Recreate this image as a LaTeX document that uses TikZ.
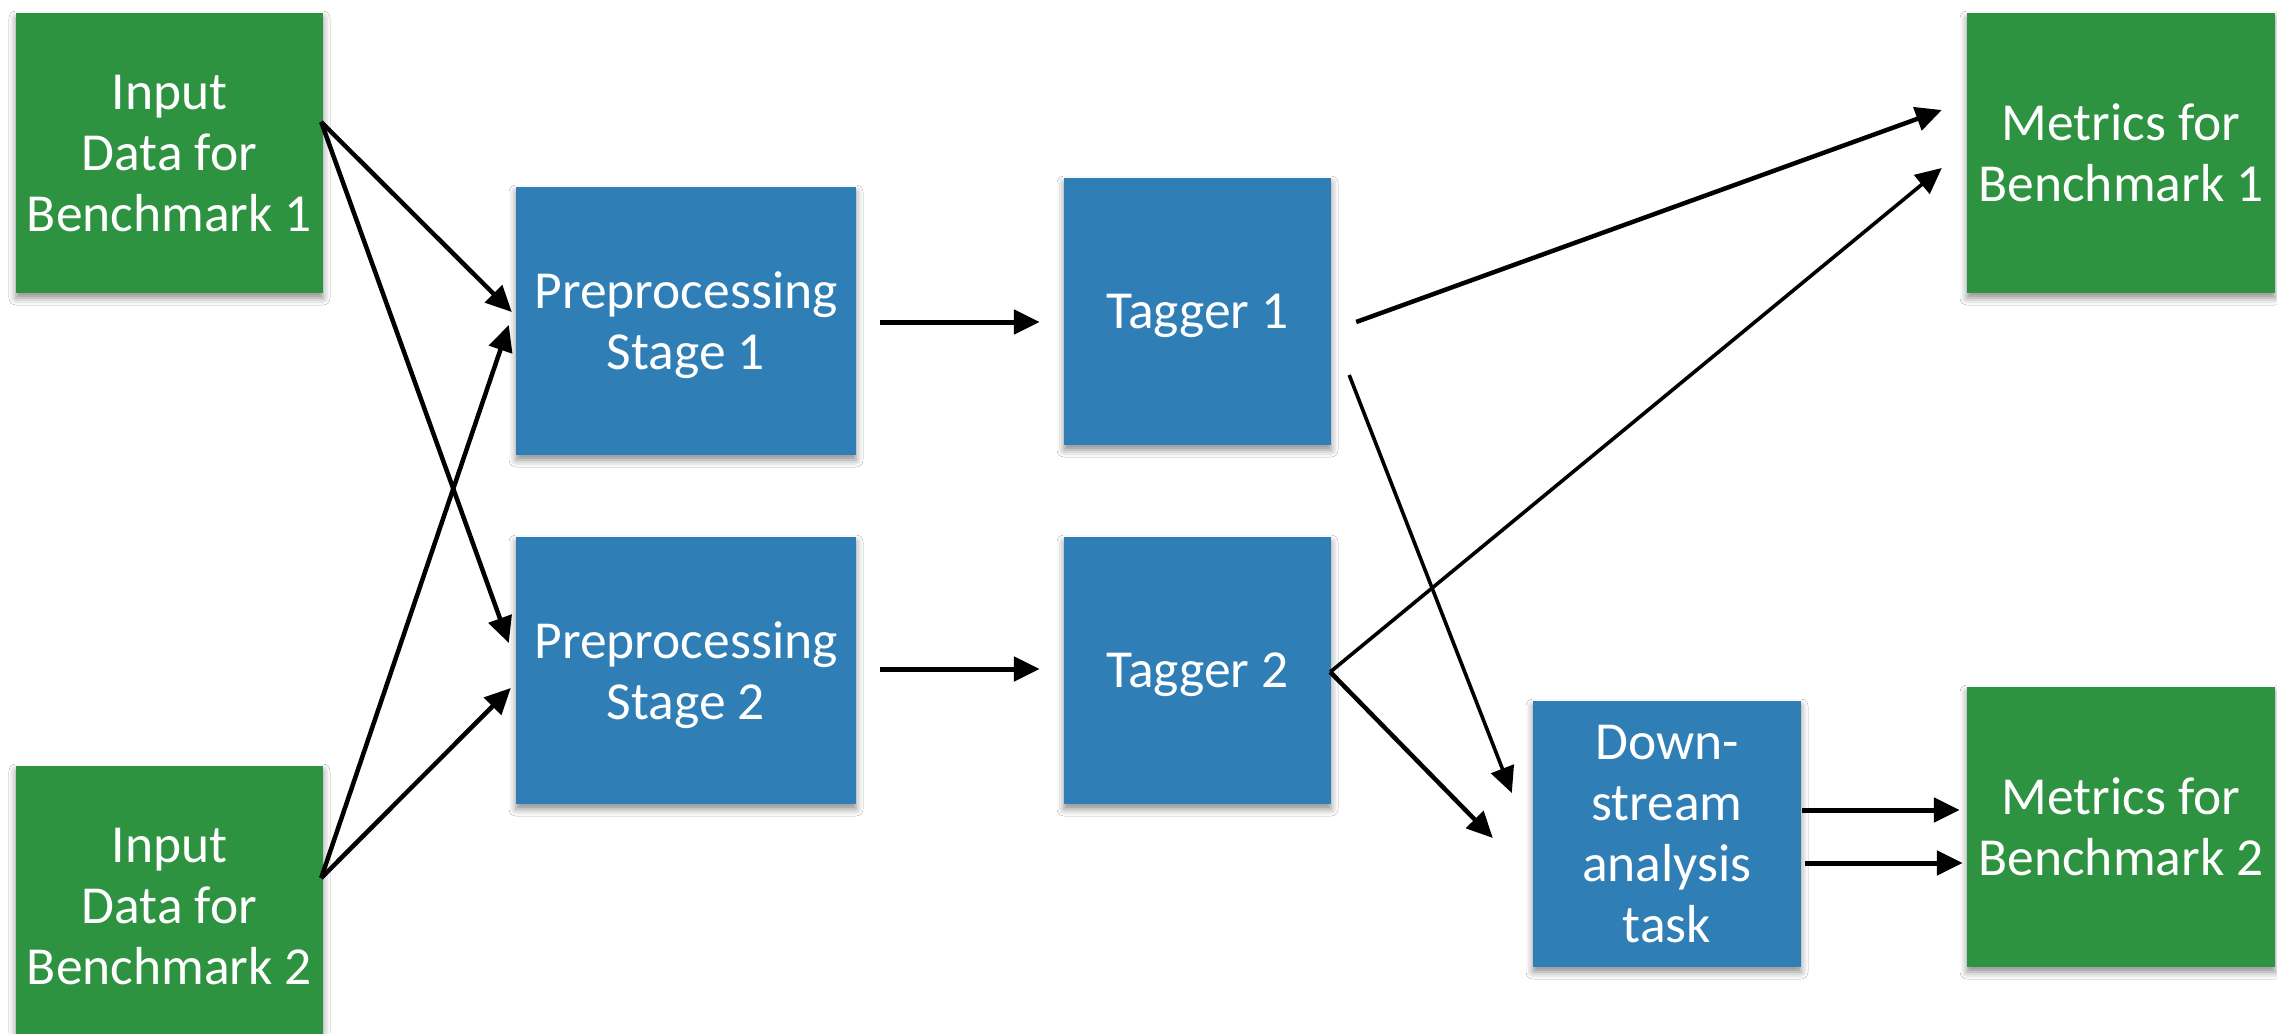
\documentclass[tikz,border=0pt]{standalone}
\usepackage{fontspec}
\setmainfont{Carlito}
\usetikzlibrary{arrows.meta,calc,shadows.blur}
\definecolor{boxgreen}{RGB}{46,147,64}
\definecolor{boxblue}{RGB}{47,126,182}
\begin{document}
\begin{tikzpicture}[x=1pt,y=-1pt,
  card/.style={inner sep=0pt, align=center, text=white, text depth=-4pt,
    font=\fontsize{53.5}{61}\selectfont,
    blur shadow={shadow xshift=0pt, shadow yshift=-5pt,
      shadow blur radius=7pt, shadow opacity=45}},
  databox/.style={card, fill=boxgreen, minimum width=307pt, minimum height=280pt},
  stagebox/.style={card, fill=boxblue},
  arr/.style={line width=4.5pt, -{Triangle[length=26pt,width=24pt]}},
  thinarr/.style={arr, line width=3.6pt}]
\useasboundingbox (0,0) rectangle (2277,1033);
\fill[white] (0,0) rectangle (2277,1033);

% inputs
\node[databox] (in1) at (169.5,153) {Input\\Data for\\Benchmark 1};
\node[databox] (in2) at (169.5,906) {Input\\Data for\\Benchmark 2};

% processing stages
\node[stagebox, minimum width=340pt, minimum height=268pt] (prep1) at (686,321) {Preprocessing\\Stage 1};
\node[stagebox, minimum width=340pt, minimum height=267pt] (prep2) at (686,670.5) {Preprocessing\\Stage 2};
\node[stagebox, minimum width=267pt, minimum height=267pt] (tag1) at (1197.5,311.5) {Tagger 1};
\node[stagebox, minimum width=267pt, minimum height=267pt] (tag2) at (1197.5,670.5) {Tagger 2};
\node[stagebox, minimum width=268pt, minimum height=266pt] (down) at (1667,834) {Down-\\stream\\analysis\\task};

% outputs
\node[databox, minimum width=308pt] (met1) at (2121,153) {Metrics for\\Benchmark 1};
\node[databox, minimum width=308pt] (met2) at (2121,827) {Metrics for\\Benchmark 2};

% inputs to preprocessing
\draw[arr] ($(in1.east)+(-2,-31)$) -- ($(prep1.west)+(-4,-9)$);
\draw[arr] ($(in1.east)+(-2,-31)$) -- ($(prep2.west)+(-7,-27.5)$);
\draw[arr] ($(in2.east)+(-2,-28)$) -- ($(prep1.west)+(-7,4)$);
\draw[arr] ($(in2.east)+(-2,-28)$) -- ($(prep2.west)+(-5,17.5)$);

% preprocessing to taggers
\draw[arr, line width=5pt] ($(prep1.east)+(24,1)$) -- ($(tag1.west)+(-24,10.5)$);
\draw[arr, line width=5pt] ($(prep2.east)+(24,-1.5)$) -- ($(tag2.west)+(-24,-1.5)$);

% taggers to metrics and downstream task
\draw[arr] ($(tag1.east)+(25,10.5)$) -- ($(met1.west)+(-25,-43)$);
\draw[thinarr] ($(tag1.east)+(18,63.5)$) -- ($(down.west)+(-21,-41)$);
\draw[thinarr] ($(tag2.east)+(-1,1.5)$) -- ($(met1.west)+(-25,15)$);
\draw[arr] ($(tag2.east)+(-1,1.5)$) -- ($(down.west)+(-40,4)$);

% downstream task to metrics
\draw[arr, line width=5pt] ($(down.east)+(1,-24)$) -- ($(met2.west)+(-7,-17)$);
\draw[arr, line width=5pt] ($(down.east)+(4,29)$) -- ($(met2.west)+(-4,36)$);
\end{tikzpicture}
\end{document}
